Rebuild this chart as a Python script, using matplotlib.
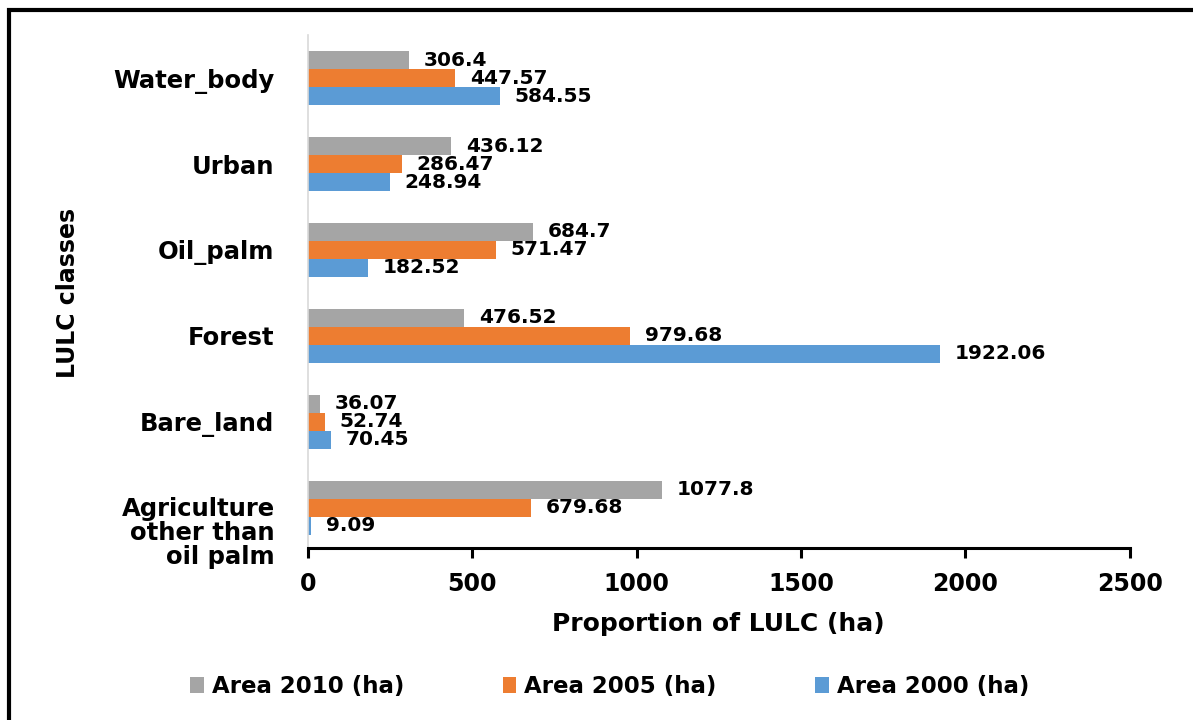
import matplotlib.pyplot as plt
import matplotlib.transforms as mtransforms
import numpy as np
from matplotlib.patches import Rectangle

# land use classes, bottom to top
classes = ["Agriculture\nother than\noil palm", "Bare_land", "Forest",
           "Oil_palm", "Urban", "Water_body"]
area_2010 = [1077.8, 36.07, 476.52, 684.7, 436.12, 306.4]
area_2005 = [679.68, 52.74, 979.68, 571.47, 286.47, 447.57]
area_2000 = [9.09, 70.45, 1922.06, 182.52, 248.94, 584.55]
series_labels = ["Area 2010 (ha)", "Area 2005 (ha)", "Area 2000 (ha)"]
colors = ["#A5A5A5", "#ED7D31", "#5B9BD5"]

fig = plt.figure(figsize=(11.93, 7.2), dpi=100)
ax = fig.add_axes([0.258, 0.239, 0.689, 0.712])

y = np.arange(len(classes))
h = 0.21
offsets = [h, 0, -h]
bold = dict(family="DejaVu Sans", weight="bold")

for vals, off, col, lab in zip([area_2010, area_2005, area_2000], offsets, colors, series_labels):
    bars = ax.barh(y + off, vals, height=h, color=col, label=lab)
    for b, v in zip(bars, vals):
        ax.text(v + 45, b.get_y() + h / 2, f"{v:g}",
                va="center", ha="left", fontsize=14.5, **bold)

ax.set_xlim(0, 2500)
ax.set_ylim(-0.47, 5.5)
ax.set_xticks([0, 500, 1000, 1500, 2000, 2500])
ax.set_yticks(y)
# the three-line label is drawn separately, a bit lower, like in Excel
ax.set_yticklabels([""] + classes[1:], fontsize=17.5, **bold)
shift = mtransforms.ScaledTranslation(-0.33, -0.25, fig.dpi_scale_trans)
ax.text(0, y[0], classes[0], transform=ax.get_yaxis_transform() + shift,
        ha="right", va="center", fontsize=17.5, linespacing=1.0, **bold)
for t in ax.get_xticklabels():
    t.set_fontsize(17)
    t.set_fontweight("bold")
    t.set_family("DejaVu Sans")

for s in ["top", "right"]:
    ax.spines[s].set_visible(False)
ax.spines["left"].set_color("#D9D9D9")
ax.spines["left"].set_linewidth(1.2)
ax.spines["bottom"].set_color("black")
ax.spines["bottom"].set_linewidth(2.2)
ax.tick_params(axis="y", length=0, pad=24)
ax.tick_params(axis="x", direction="out", length=7, width=2.2, pad=10)

ax.set_xlabel("Proportion of LULC (ha)", fontsize=18, labelpad=12, **bold)
fig.text(0.057, 0.593, "LULC classes", rotation=90, ha="center", va="center",
         fontsize=17, **bold)

fig.legend(loc="center", bbox_to_anchor=(0.511, 0.046), ncol=3, frameon=False,
           prop=dict(family="DejaVu Sans", weight="bold", size=16.5),
           handlelength=0.6, handleheight=0.7, handletextpad=0.35, columnspacing=4.3)

fig.patches.append(Rectangle((0.0075, -0.02), 1.05, 1.006, transform=fig.transFigure,
                             fill=False, edgecolor="black", linewidth=3))

fig.savefig("out.png", dpi=100)
